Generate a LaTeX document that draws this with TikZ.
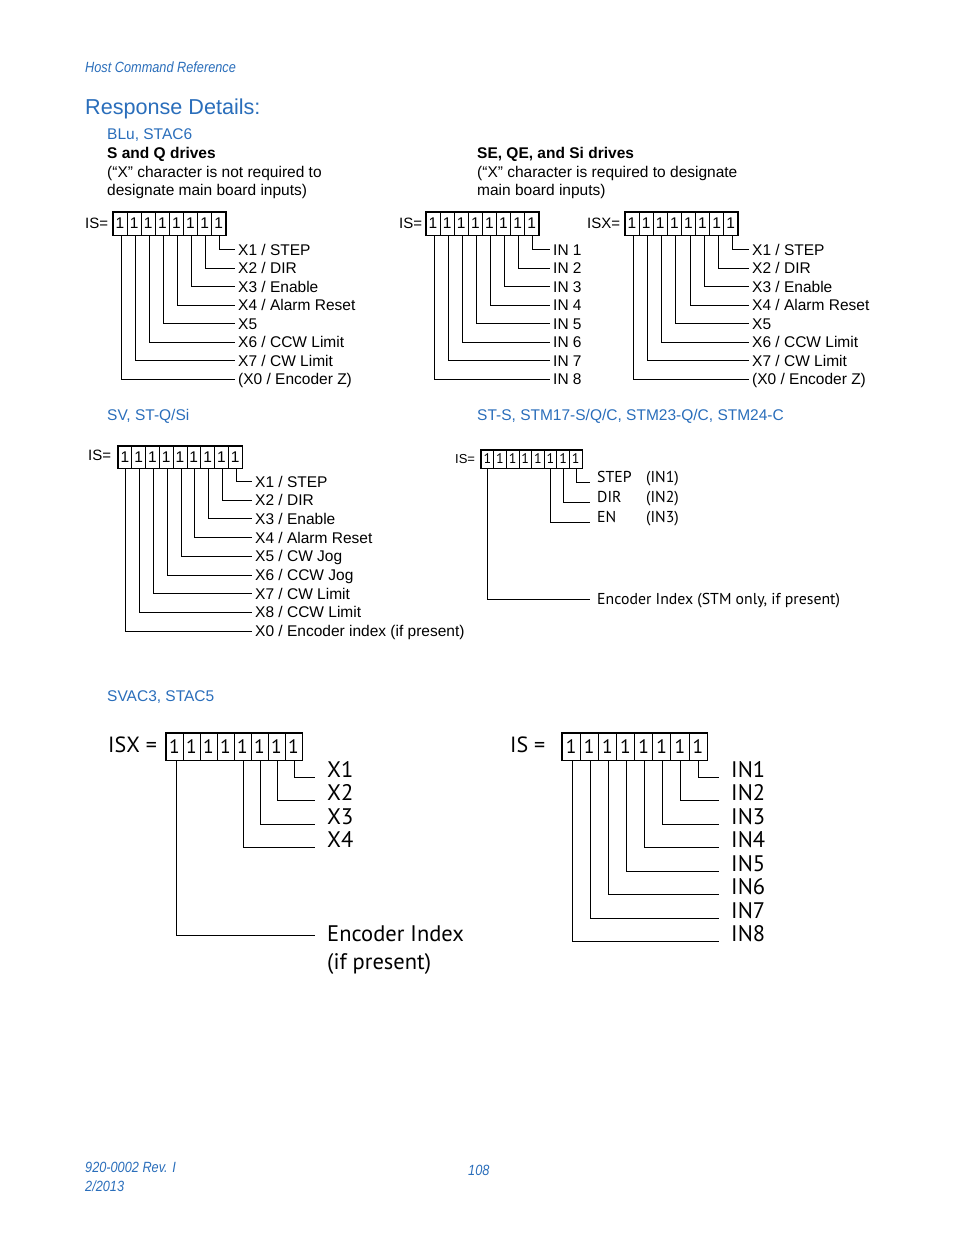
\documentclass[tikz,border=0pt]{standalone}
\usepackage{fontspec}
\setmainfont{Liberation Sans}
\newfontfamily\myr{PT Sans}
\newfontfamily\narrow[FakeStretch=0.86]{Liberation Sans}
\definecolor{hdrblue}{HTML}{2A6EBB}
\tikzset{
  conn/.style={line width=0.9pt},
  outerbox/.style={line width=1.3pt},
  txt/.style={anchor=base west, inner sep=0pt},
  cellA/.style={draw, line width=0.6pt, minimum width=14.1pt, minimum height=23pt, inner sep=0pt, font=\fontsize{15.5}{15.5}\selectfont},
  cellD/.style={cellA, minimum width=13.78pt, minimum height=22pt},
  cellE/.style={draw, line width=0.6pt, minimum width=12.625pt, minimum height=18pt, inner sep=0pt, font=\myr\fontsize{14}{14}\selectfont},
  cellF/.style={draw, line width=0.6pt, minimum width=17pt, minimum height=27pt, inner sep=0pt, font=\myr\fontsize{19.5}{19.5}\selectfont},
  cellG/.style={cellF, minimum width=18.125pt},
  labA/.style={anchor=west, inner xsep=3pt, inner ysep=0pt, text height=11.1pt, text depth=0pt, font=\fontsize{15.5}{18}\selectfont},
  labE/.style={anchor=base west, inner xsep=7pt, inner ysep=0pt, font=\myr\fontsize{15.8}{18}\selectfont},
  labF/.style={anchor=base west, inner xsep=12pt, inner ysep=0pt, font=\myr\fontsize{22.5}{26}\selectfont},
  hdrit/.style={txt, text=hdrblue, font=\narrow\itshape\fontsize{14.8}{17}\selectfont},
}
\begin{document}
\begin{tikzpicture}[x=1pt,y=-1pt]
\useasboundingbox[fill=white] (0,0) rectangle (954,1235);

% ---------- header ----------
\node[hdrit] (hcr) at (85,72.5) {Host Command Reference};
\node[txt, text=hdrblue, font=\fontsize{21.6}{25}\selectfont] (resp) at (85,114.7) {Response Details:};
\node[txt, text=hdrblue, font=\fontsize{15.5}{18}\selectfont] (blu) at (107,139.5) {BLu, STAC6};
\node[txt, font=\bfseries\fontsize{15.5}{18}\selectfont] (sq) at (107,158.5) {S and Q drives};
\node[txt, font=\fontsize{15.5}{18}\selectfont] (sq2) at (107,177) {(“X” character is not required to};
\node[txt, font=\fontsize{15.5}{18}\selectfont] (sq3) at (107,195.5) {designate main board inputs)};
\node[txt, font=\bfseries\fontsize{15.5}{18}\selectfont] (se) at (477,158.5) {SE, QE, and Si drives};
\node[txt, font=\fontsize{15.5}{18}\selectfont] (se2) at (477,177) {(“X” character is required to designate};
\node[txt, font=\fontsize{15.5}{18}\selectfont] (se3) at (477,195.5) {main board inputs)};

% ---------- diagram A: IS= X1..X0 ----------
\node[txt, font=\fontsize{15}{15}\selectfont] (Ais) at (85,228.5) {IS=};
\foreach \i in {1,...,8} \node[cellA] (A\i) at ({113+14.1*(\i-0.5)},223.5) {1};
\draw[outerbox] (A1.north west) rectangle (A8.south east);
\node[labA] (Al1) at (235,249.5) {X1 / STEP};
\node[labA] (Al2) at (235,268) {X2 / DIR};
\node[labA] (Al3) at (235,286.5) {X3 / Enable};
\node[labA] (Al4) at (235,305) {X4 / Alarm Reset};
\node[labA] (Al5) at (235,323.5) {X5};
\node[labA] (Al6) at (235,342) {X6 / CCW Limit};
\node[labA] (Al7) at (235,360.5) {X7 / CW Limit};
\node[labA] (Al8) at (235,379) {(X0 / Encoder Z)};
\foreach \k in {1,...,8} {\pgfmathtruncatemacro\c{9-\k}
  \draw[conn] ([xshift=1pt]A\c.south) |- (Al\k.west);}

% ---------- diagram B: IS= IN 1..IN 8 ----------
\node[txt, font=\fontsize{15}{15}\selectfont] (Bis) at (399,228.5) {IS=};
\foreach \i in {1,...,8} \node[cellA] (B\i) at ({426+14.1*(\i-0.5)},223.5) {1};
\draw[outerbox] (B1.north west) rectangle (B8.south east);
\foreach \k in {1,...,8} {\pgfmathtruncatemacro\c{9-\k}
  \node[labA] (Bl\k) at (550,{249.5+18.5*(\k-1)}) {IN \k};
  \draw[conn] ([xshift=1pt]B\c.south) |- (Bl\k.west);}

% ---------- diagram C: ISX= ----------
\node[txt, font=\fontsize{15}{15}\selectfont] (Cis) at (587,228.5) {ISX=};
\foreach \i in {1,...,8} \node[cellA] (C\i) at ({625+14.1*(\i-0.5)},223.5) {1};
\draw[outerbox] (C1.north west) rectangle (C8.south east);
\node[labA] (Cl1) at (749,249.5) {X1 / STEP};
\node[labA] (Cl2) at (749,268) {X2 / DIR};
\node[labA] (Cl3) at (749,286.5) {X3 / Enable};
\node[labA] (Cl4) at (749,305) {X4 / Alarm Reset};
\node[labA] (Cl5) at (749,323.5) {X5};
\node[labA] (Cl6) at (749,342) {X6 / CCW Limit};
\node[labA] (Cl7) at (749,360.5) {X7 / CW Limit};
\node[labA] (Cl8) at (749,379) {(X0 / Encoder Z)};
\foreach \k in {1,...,8} {\pgfmathtruncatemacro\c{9-\k}
  \draw[conn] ([xshift=1.5pt]C\c.south) |- (Cl\k.west);}

% ---------- section headings ----------
\node[txt, text=hdrblue, font=\fontsize{15.5}{18}\selectfont] (sv) at (107,420.5) {SV, ST-Q/Si};
\node[txt, text=hdrblue, font=\fontsize{15.5}{18}\selectfont] (sts) at (477,420.5) {ST-S, STM17-S/Q/C, STM23-Q/C, STM24-C};

% ---------- diagram D ----------
\node[txt, font=\fontsize{15}{15}\selectfont] (Dis) at (88,460.5) {IS=};
\foreach \i in {1,...,9} \node[cellD] (D\i) at ({118+13.78*(\i-0.5)},457) {1};
\draw[outerbox] (D1.north west) rectangle (D9.south east);
\node[labA] (Dl1) at (252,481.5) {X1 / STEP};
\node[labA] (Dl2) at (252,500.2) {X2 / DIR};
\node[labA] (Dl3) at (252,518.9) {X3 / Enable};
\node[labA] (Dl4) at (252,537.6) {X4 / Alarm Reset};
\node[labA] (Dl5) at (252,556.3) {X5 / CW Jog};
\node[labA] (Dl6) at (252,575) {X6 / CCW Jog};
\node[labA] (Dl7) at (252,593.7) {X7 / CW Limit};
\node[labA] (Dl8) at (252,612.4) {X8 / CCW Limit};
\node[labA] (Dl9) at (252,631.1) {X0 / Encoder index (if present)};
\foreach \k in {1,...,9} {\pgfmathtruncatemacro\c{10-\k}
  \draw[conn] ([xshift=1pt]D\c.south) |- (Dl\k.west);}

% ---------- diagram E ----------
\node[txt, font=\fontsize{13}{13}\selectfont] (Eis) at (455,463) {IS=};
\foreach \i in {1,...,8} \node[cellE] (E\i) at ({481+12.625*(\i-0.5)},459) {1};
\draw[outerbox] (E1.north west) rectangle (E8.south east);
\node[labE] (El1) at (590,482.5) {STEP};
\node[labE] (El2) at (590,502.5) {DIR};
\node[labE] (El3) at (590,522.5) {EN};
\node[txt, font=\myr\fontsize{15.8}{18}\selectfont] (Ein1) at (646,482.5) {(IN1)};
\node[txt, font=\myr\fontsize{15.8}{18}\selectfont] (Ein2) at (646,502.5) {(IN2)};
\node[txt, font=\myr\fontsize{15.8}{18}\selectfont] (Ein3) at (646,522.5) {(IN3)};
\node[labE, anchor=west, text height=10pt, text depth=0pt] (Eenc) at (590,599.5) {Encoder Index (STM only, if present)};
\draw[conn] ([xshift=0.5pt]E8.south) |- (El1.base west);
\draw[conn] ([xshift=0.5pt]E7.south) |- (El2.base west);
\draw[conn] ([xshift=0.5pt]E6.south) |- (El3.base west);
\draw[conn] ([xshift=0.5pt]E1.south) |- (Eenc.west);

% ---------- SVAC3 ----------
\node[txt, text=hdrblue, font=\fontsize{15.5}{18}\selectfont] (svac) at (107,701.5) {SVAC3, STAC5};

% ---------- diagram F ----------
\node[txt, font=\myr\fontsize{22}{22}\selectfont] (Fis) at (108,752.5) {ISX =};
\foreach \i in {1,...,8} \node[cellF] (F\i) at ({166+17*(\i-0.5)},746.5) {1};
\draw[outerbox] (F1.north west) rectangle (F8.south east);
\node[labF] (Fl1) at (315,777) {X1};
\node[labF] (Fl2) at (315,800.5) {X2};
\node[labF] (Fl3) at (315,824) {X3};
\node[labF] (Fl4) at (315,847.5) {X4};
\node[labF, anchor=west, text height=13pt, text depth=0pt] (Fenc) at (315,935) {Encoder Index};
\node[txt, font=\myr\fontsize{22.5}{26}\selectfont] (Fenc2) at (327,969.5) {(if present)};
\draw[conn] ([xshift=1pt]F8.south) |- (Fl1.base west);
\draw[conn] ([xshift=1pt]F7.south) |- (Fl2.base west);
\draw[conn] ([xshift=1pt]F6.south) |- (Fl3.base west);
\draw[conn] ([xshift=1pt]F5.south) |- (Fl4.base west);
\draw[conn] ([xshift=2pt]F1.south) |- (Fenc.west);

% ---------- diagram G ----------
\node[txt, font=\myr\fontsize{22}{22}\selectfont] (Gis) at (510,752.5) {IS =};
\foreach \i in {1,...,8} \node[cellG] (G\i) at ({562+18.125*(\i-0.5)},746.5) {1};
\draw[outerbox] (G1.north west) rectangle (G8.south east);
\foreach \k in {1,...,8} {\pgfmathtruncatemacro\c{9-\k}
  \node[labF] (Gl\k) at (719,{777+23.5*(\k-1)}) {IN\k};
  \draw[conn] ([xshift=1pt]G\c.south) |- (Gl\k.base west);}

% ---------- footer ----------
\node[hdrit] (rev) at (85,1172.5) {920-0002 Rev. I};
\node[hdrit] (date) at (85,1191.5) {2/2013};
\node[hdrit] (page) at (468,1175) {108};
\end{tikzpicture}
\end{document}
